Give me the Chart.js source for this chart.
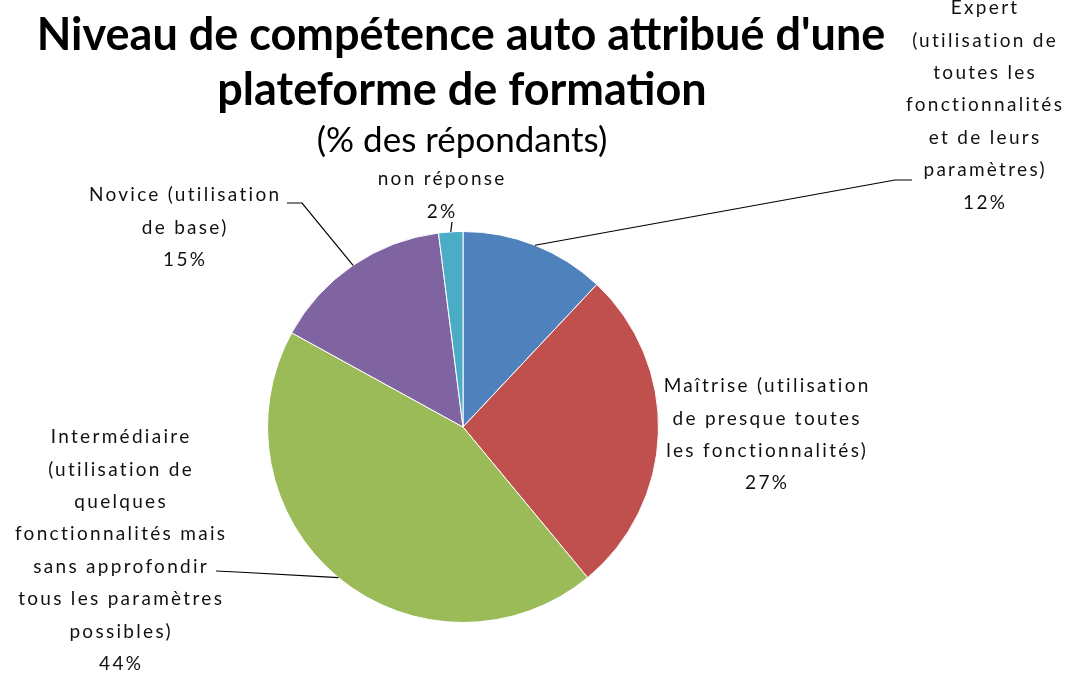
<!DOCTYPE html>
<html>
<head>
<meta charset="utf-8">
<script src="https://cdn.jsdelivr.net/npm/chart.js@4/dist/chart.umd.min.js"></script>
<style>
  html, body { margin: 0; padding: 0; background: #fff; }
  #chart { display: block; }
</style>
</head>
<body>
<canvas id="chart" width="1075" height="673"></canvas>
<script>
// Survey data: self-rated skill level on the training platform
const categories = [
  'Expert (utilisation de toutes les fonctionnalités et de leurs paramètres)',
  'Maîtrise (utilisation de presque toutes les fonctionnalités)',
  'Intermédiaire (utilisation de quelques fonctionnalités mais sans approfondir tous les paramètres possibles)',
  'Novice (utilisation de base)',
  'non réponse'
];
const shares = [12, 27, 44, 15, 2];
const sliceColors = ['#4f81bd', '#c0504d', '#9bbb59', '#8064a2', '#4bacc6'];

// how each category name is wrapped in its label
const labelLines = [
  ['Expert', '(utilisation de', 'toutes les', 'fonctionnalités', 'et de leurs', 'paramètres)'],
  ['Maîtrise (utilisation', 'de presque toutes', 'les fonctionnalités)'],
  ['Intermédiaire', '(utilisation de', 'quelques', 'fonctionnalités mais', 'sans approfondir', 'tous les paramètres', 'possibles)'],
  ['Novice (utilisation', 'de base)'],
  ['non réponse']
];

const titleLines = ["Niveau de compétence auto attribué d'une", 'plateforme de formation'];
const subtitle = '(% des répondants)';

// label placement: centre x, first line y, and the elbow of the leader line
const labelLayout = [
  { x: 984, y: 8, leader: [[912, 180], [895, 180]] },
  { x: 766, y: 386, leader: null },
  { x: 120, y: 437, leader: [[216, 571], [237, 572]] },
  { x: 184, y: 195, leader: [[287, 203], [302, 203]] },
  { x: 441, y: 179, leader: [[452, 222]] }
];
const LINE_STEP = 32.4;
const LETTER_GAP = 2.3;

const titlePlugin = {
  id: 'titleText',
  afterDraw(chart) {
    const ctx = chart.ctx;
    ctx.save();
    ctx.fillStyle = '#000';
    ctx.textAlign = 'center';
    ctx.textBaseline = 'middle';
    ctx.font = 'bold 45px Lato';
    ctx.fillText(titleLines[0], 461, 35);
    ctx.fillText(titleLines[1], 462, 90);
    ctx.font = '35px Lato';
    ctx.fillText(subtitle, 462, 141);
    ctx.restore();
  }
};

const pieLabels = {
  id: 'pieLabels',
  afterDatasetsDraw(chart) {
    const ctx = chart.ctx;
    const arcs = chart.getDatasetMeta(0).data;
    ctx.save();
    arcs.forEach((arc, i) => {
      const p = arc.getProps(['x', 'y', 'startAngle', 'endAngle', 'outerRadius'], true);
      const mid = (p.startAngle + p.endAngle) / 2;
      const ex = p.x + Math.cos(mid) * p.outerRadius;
      const ey = p.y + Math.sin(mid) * p.outerRadius;
      const lay = labelLayout[i];

      if (lay.leader) {
        ctx.strokeStyle = '#000';
        ctx.lineWidth = 1.2;
        ctx.beginPath();
        ctx.moveTo(lay.leader[0][0], lay.leader[0][1]);
        for (let k = 1; k < lay.leader.length; k++) ctx.lineTo(lay.leader[k][0], lay.leader[k][1]);
        ctx.lineTo(ex, ey);
        ctx.stroke();
      }

      ctx.fillStyle = '#111';
      ctx.textAlign = 'center';
      ctx.textBaseline = 'middle';
      ctx.font = '19px Lato';
      ctx.letterSpacing = LETTER_GAP + 'px';
      const lines = labelLines[i].concat([shares[i] + '%']);
      // trailing letter gap shifts centred text right, so pull it back
      lines.forEach((t, k) => ctx.fillText(t, lay.x + LETTER_GAP / 2, lay.y + k * LINE_STEP));
    });
    ctx.restore();
  }
};

new Chart(document.getElementById('chart'), {
  type: 'pie',
  data: {
    labels: categories,
    datasets: [{
      data: shares,
      backgroundColor: sliceColors,
      borderColor: '#fff',
      borderWidth: 1
    }]
  },
  options: {
    responsive: false,
    animation: false,
    layout: { padding: { left: 267, right: 416, top: 231, bottom: 50 } },
    plugins: {
      legend: { display: false },
      tooltip: { enabled: false }
    }
  },
  plugins: [titlePlugin, pieLabels]
});
</script>
</body>
</html>
